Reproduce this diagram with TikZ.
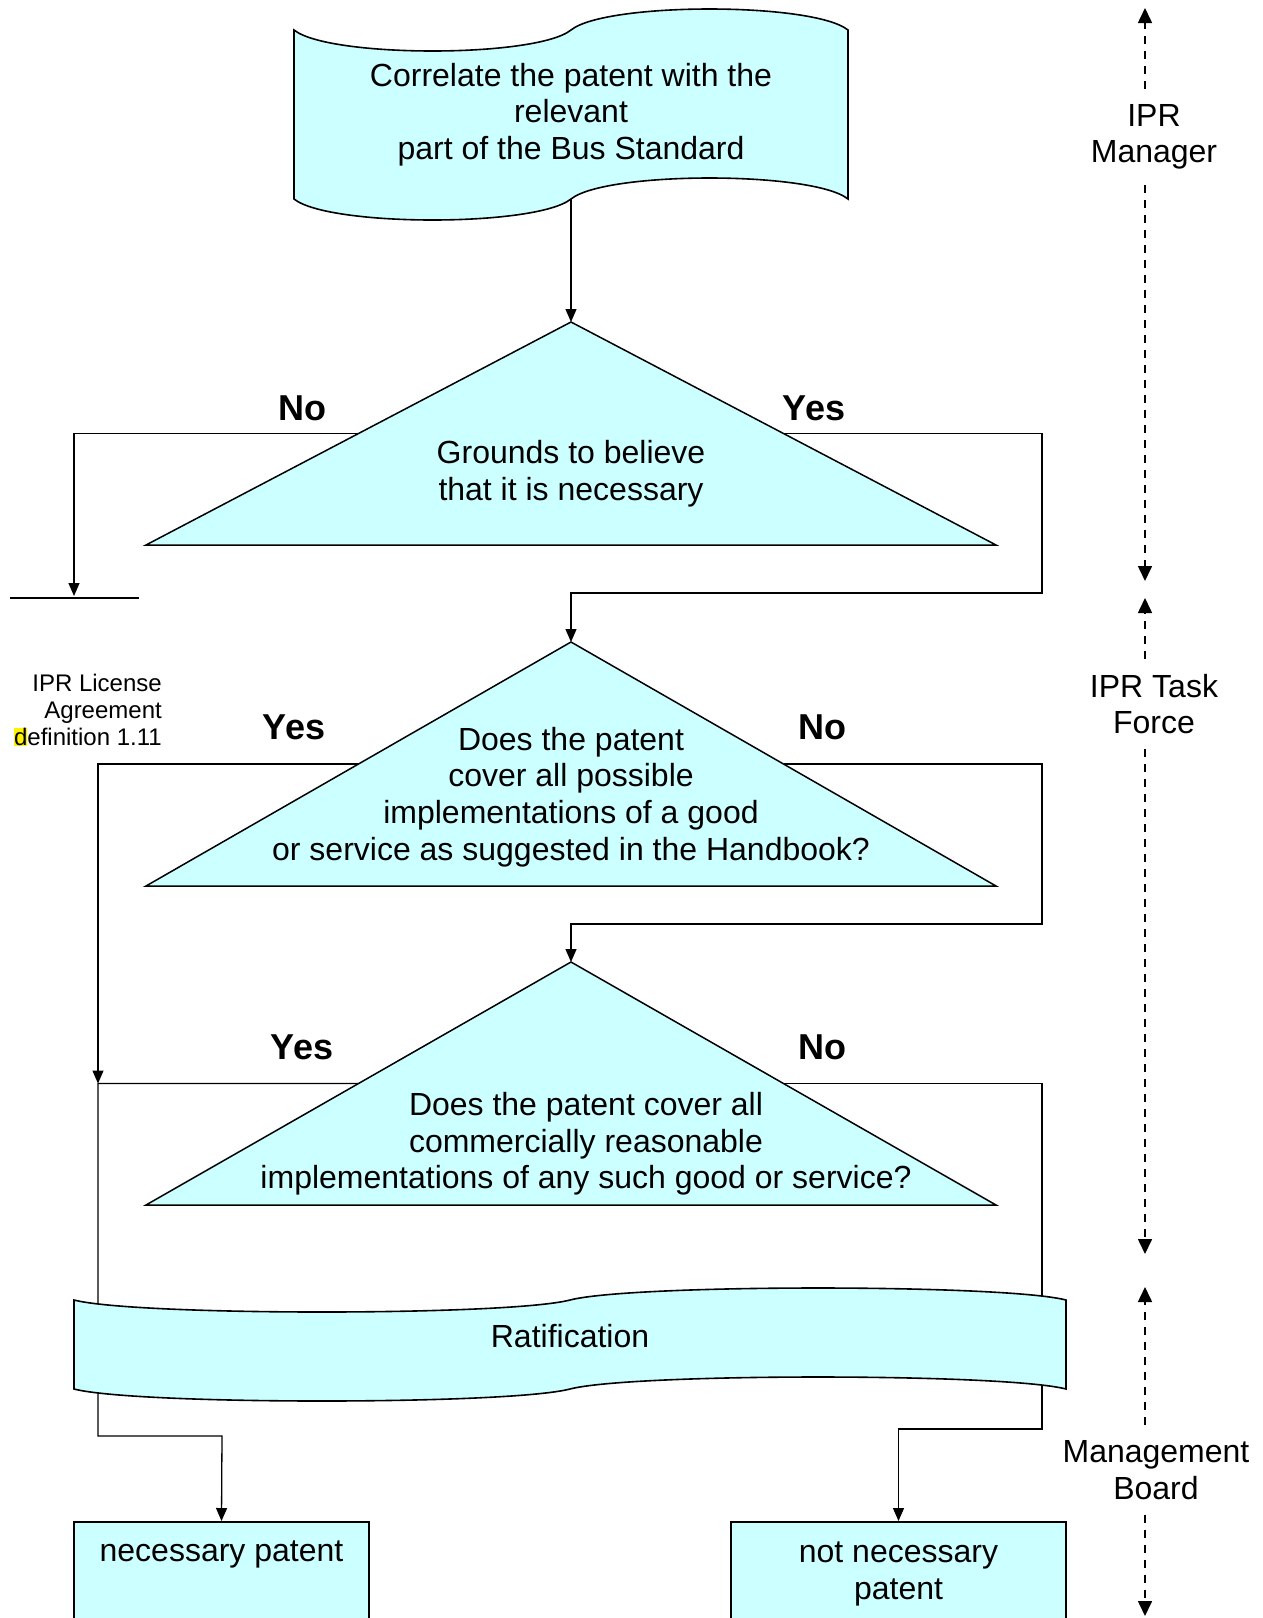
\documentclass[tikz,border=0pt]{standalone}
\usepackage{fontspec}
\setmainfont{Liberation Sans}
\usepackage{xcolor}
\usetikzlibrary{arrows.meta,calc}

\definecolor{paleblue}{RGB}{204,255,255}

\begin{document}
\begin{tikzpicture}[
  x=1pt,y=-1pt,
  txt/.style={font=\fontsize{32}{36.6}\selectfont,align=center},
  yn/.style={font=\fontsize{36}{40}\selectfont\bfseries},
  tapefill/.style={draw,line width=1.6pt,fill=paleblue},
  box/.style={draw,line width=1.6pt,fill=paleblue,anchor=north,
              font=\fontsize{32}{36.6}\selectfont,align=center},
  arr/.style={-{Triangle[length=13pt,width=11pt]},line width=1.3pt},
  lane/.style={-{Triangle[length=15pt,width=14pt]},line width=1.6pt,
               dash pattern=on 8pt off 7pt},
  who/.style={font=\fontsize{32}{36.6}\selectfont,align=center,inner ysep=15pt}
]
\useasboundingbox (0,0) rectangle (1263,1618);
\clip (0,0) rectangle (1263,1618);

% first step, punched tape
\draw[tapefill] (294,30) .. controls (329,58) and (536,58) .. (571,30)
  .. controls (606,2) and (813,2) .. (848,30) -- (848,199)
  .. controls (813,171) and (606,171) .. (571,199)
  .. controls (536,227) and (329,227) .. (294,199) -- cycle;
\node[txt,minimum width=554pt,minimum height=169pt] (corr) at (571,114.5)
  {Correlate the patent with the\\relevant\\part of the Bus Standard};

% decisions
\coordinate (gnd-top) at (571,322);
\coordinate (gnd-bl) at (146,545);
\coordinate (gnd-br) at (996,545);
\draw[tapefill,line width=1.5pt] (gnd-top) -- (gnd-br) -- (gnd-bl) -- cycle;
\coordinate (gnd-l) at ($(gnd-top)!0.5!(gnd-bl)$);
\coordinate (gnd-r) at ($(gnd-top)!0.5!(gnd-br)$);
\node[txt] (grounds) at (571,474) {Grounds to believe\\that it is necessary};

\coordinate (cov-top) at (571,642);
\coordinate (cov-bl) at (146,886);
\coordinate (cov-br) at (996,886);
\draw[tapefill,line width=1.5pt] (cov-top) -- (cov-br) -- (cov-bl) -- cycle;
\coordinate (cov-l) at ($(cov-top)!0.5!(cov-bl)$);
\coordinate (cov-r) at ($(cov-top)!0.5!(cov-br)$);
\node[txt] (cover) at (571,797) {Does the patent\\cover all possible\\implementations of a good\\or service as suggested in the Handbook?};

\coordinate (com-top) at (571,962);
\coordinate (com-bl) at (146,1205);
\coordinate (com-br) at (996,1205);
\draw[tapefill,line width=1.5pt] (com-top) -- (com-br) -- (com-bl) -- cycle;
\coordinate (com-l) at ($(com-top)!0.5!(com-bl)$);
\coordinate (com-r) at ($(com-top)!0.5!(com-br)$);
\node[txt] (commercial) at (586,1144) {Does the patent cover all\\commercially reasonable\\implementations of any such good or service?};

\node[yn] (no1) at (302,408) {No};
\node[yn] (yes1) at (814,408) {Yes};
\node[yn] (yes2) at (294,727) {Yes};
\node[yn] (no2) at (822,727) {No};
\node[yn] (yes3) at (302,1047) {Yes};
\node[yn] (no3) at (822,1047) {No};

\coordinate (stop) at (74,596);
\coordinate (join) at (98,1083.5);
\draw[line width=1.3pt] (10,598) -- (139,598);

\draw[arr] (corr) -- (gnd-top);
\draw[arr] (gnd-l) -| (stop);
\draw[arr] (gnd-r) -| (1042,593) -| (cov-top);
\draw[arr] (cov-l) -| (join);
\draw[arr] (cov-r) -| (1042,924) -| (com-top);

\node[box,minimum width=295pt,inner ysep=0pt,text height=40pt,text depth=160pt]
  (nec) at (221.5,1521) {necessary patent};
\node[box,minimum width=335pt,minimum height=104pt]
  (notnec) at (898.5,1521) {not necessary\\patent};

\draw[arr] (com-l) -- (join) |- (222,1436) -- (nec.north);
\draw[arr] (com-r) -| (1042,1429) -| (notnec.north);

% ratification, over the lines
\draw[tapefill] (74,1300) .. controls (136,1316) and (508,1316) .. (570,1300)
  .. controls (632,1284) and (1004,1284) .. (1066,1300) -- (1066,1389)
  .. controls (1004,1373) and (632,1373) .. (570,1389)
  .. controls (508,1405) and (136,1405) .. (74,1389) -- cycle;
\node[txt] (ratif) at (570,1336) {Ratification};

\node[font=\fontsize{24}{27.3}\selectfont,align=right,anchor=east,inner sep=0pt]
  (note) at (162,710) {IPR License\\Agreement\\{\setlength\fboxsep{0pt}\colorbox{yellow}{d}}efinition 1.11};

% responsibilities
\coordinate (lane) at (1145,0);
\node[who] (mgr) at (1154,137) {IPR\\Manager};
\node[who] (task) at (1154,704) {IPR Task\\Force};
\node[who] (board) at (1156,1470) {Management\\Board};
\draw[lane] (mgr.north -| lane) -- (1145,8);
\draw[lane] (mgr.south -| lane) -- (1145,581);
\draw[lane] (task.north -| lane) -- (1145,598);
\draw[lane] (task.south -| lane) -- (1145,1254);
\draw[lane] (board.north -| lane) -- (1145,1287);
\draw[lane] (board.south -| lane) -- (1145,1616);
\end{tikzpicture}
\end{document}
